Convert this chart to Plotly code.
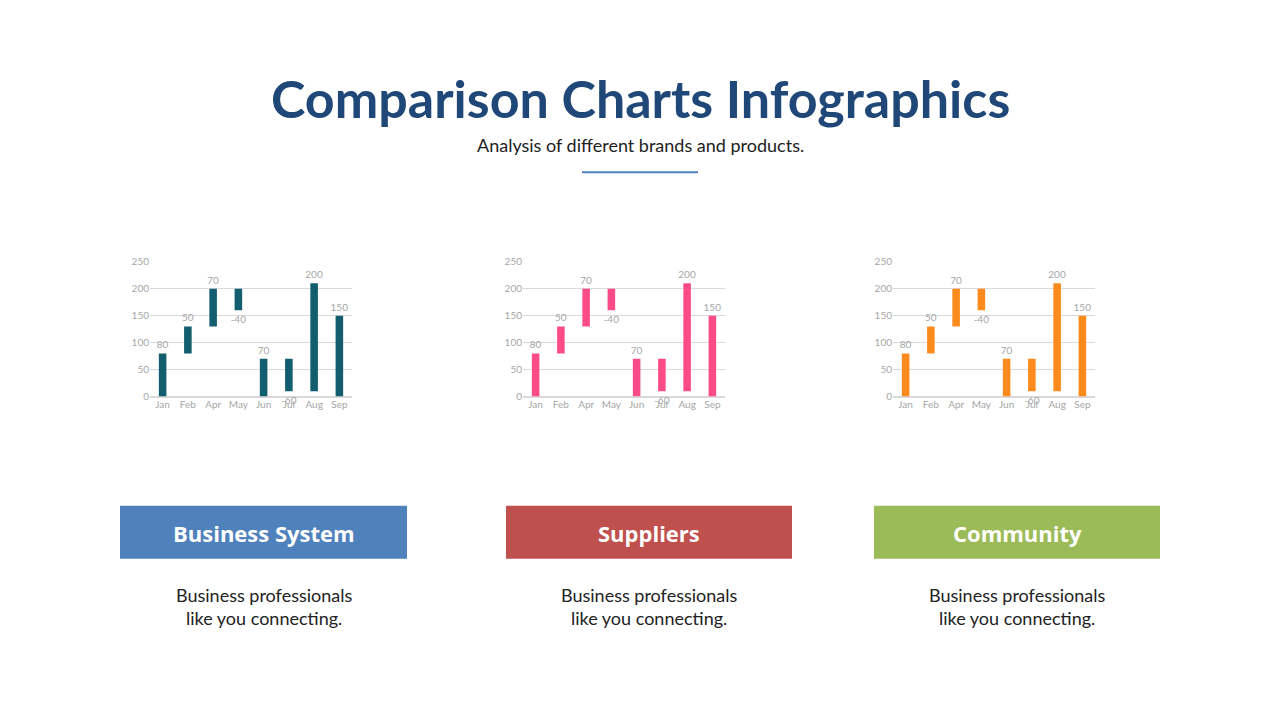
import plotly.graph_objects as go

months = ["Jan", "Feb", "Apr", "May", "Jun", "Jul", "Aug", "Sep"]
values = [80, 50, 70, -40, 70, -60, 200, 150]
measures = ["absolute", "relative", "relative", "relative", "absolute", "relative", "relative", "absolute"]
labels = ["80", "50", "70", "-40", "70", "-60", "200", "150"]
bar_colors = ["#135E6E", "#FB4C89", "#FD8A1C"]
box_titles = ["Business System", "Suppliers", "Community"]
box_colors = ["#4F81BD", "#C0504D", "#9BBB59"]
W, H = 1280, 720
OX, OY = 8, 8  # page body margin offset
chart_x = [(150, 352), (523, 725), (893, 1095)]
box_x = [(120, 407), (506, 792), (874, 1160)]

def px(x):
    return (x - OX) / W

def py(y):
    return 1 - (y - OY) / H

fig = go.Figure()
for i, c in enumerate(bar_colors):
    n = "" if i == 0 else str(i + 1)
    fig.add_trace(go.Waterfall(
        x=months, y=values, measure=measures, text=labels, textposition="outside",
        constraintext="none",
        textfont=dict(color="#A6A6A6", size=10, family="Lato"),
        increasing=dict(marker=dict(color=c)), decreasing=dict(marker=dict(color=c)),
        totals=dict(marker=dict(color=c)), connector=dict(visible=False),
        width=0.3, xaxis="x" + n, yaxis="y" + n, showlegend=False, cliponaxis=False))
    x0, x1 = chart_x[i]
    ax = dict(domain=[px(x0), px(x1)], showgrid=False, tickfont=dict(color="#A6A6A6", size=10, family="Lato"),
              showline=False, anchor="y" + n)
    ay = dict(domain=[py(397), py(260)], range=[0, 250], dtick=50, showgrid=True,
              gridcolor="#D9D9D9", zeroline=True, zerolinecolor="#D9D9D9",
              tickfont=dict(color="#A6A6A6", size=10, family="Lato"), anchor="x" + n)
    fig.update_layout(**{"xaxis" + n: ax, "yaxis" + n: ay})
    bx0, bx1 = box_x[i]
    fig.add_shape(type="rect", xref="paper", yref="paper", x0=px(bx0), x1=px(bx1),
                  y0=py(562), y1=py(508), fillcolor=box_colors[i], line=dict(width=0))
    fig.add_annotation(xref="paper", yref="paper", x=px((bx0 + bx1) / 2), y=py(536),
                       xanchor="center", yanchor="middle",
                       text="<b>" + box_titles[i] + "</b>", showarrow=False,
                       font=dict(color="white", size=22, family="Open Sans"))
    fig.add_annotation(xref="paper", yref="paper", x=px((bx0 + bx1) / 2), y=py(611),
                       xanchor="center", yanchor="middle",
                       text="Business professionals<br>like you connecting.", showarrow=False,
                       font=dict(color="#222222", size=18, family="Lato"))

fig.add_annotation(xref="paper", yref="paper", x=px(640), y=py(93), xanchor="center", yanchor="middle",
                   text="<b>Comparison Charts Infographics</b>",
                   showarrow=False, font=dict(color="#1F4778", size=52, family="Lato"))
fig.add_annotation(xref="paper", yref="paper", x=px(640), y=py(141), xanchor="center", yanchor="middle",
                   text="Analysis of different brands and products.",
                   showarrow=False, font=dict(color="#222222", size=18, family="Lato"))
fig.add_shape(type="line", xref="paper", yref="paper", x0=px(582), x1=px(698), y0=py(169), y1=py(169),
              line=dict(color="#4F81BD", width=2))
fig.update_layout(width=W, height=H, margin=dict(l=0, r=0, t=0, b=0),
                  plot_bgcolor="white", paper_bgcolor="white")
fig.write_html("out.html")
